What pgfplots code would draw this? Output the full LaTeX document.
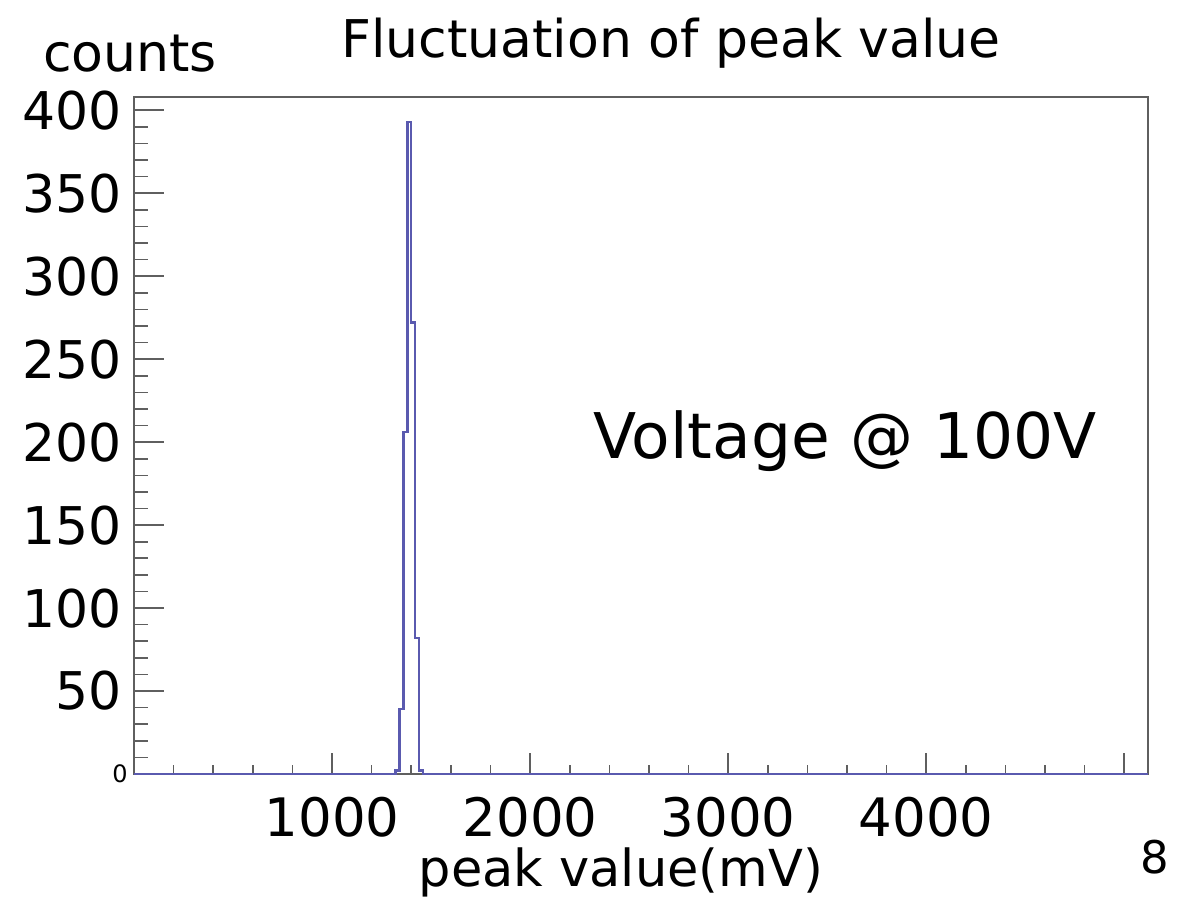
\documentclass[border=0pt]{standalone}
\usepackage{fontspec}
\setmainfont{DejaVu Sans}
\usepackage{pgfplots}
\usepackage{pgfplotstable}
\pgfplotsset{compat=1.18}
\definecolor{histblue}{RGB}{90,90,175}
\definecolor{framegray}{RGB}{95,95,95}

% peak-value histogram, 20 mV bins (left edge, counts)
\pgfplotstableread{
x     y
0     0
1320  2
1340  39
1360  206
1380  393
1400  272
1420  82
1440  2
1460  0
5120  0
}\peakdata

\begin{document}
\begin{tikzpicture}[x=1pt,y=1pt]
\path[use as bounding box] (-67,-66) rectangle (524,387);
\begin{axis}[
  at={(0,0)}, anchor=south west,
  scale only axis, width=507pt, height=338.5pt,
  xmin=0, xmax=5120, ymin=0, ymax=408,
  axis line style={framegray, line width=0.8pt},
  tick pos=left, tick align=inside,
  major tick length=15pt, minor tick length=7pt,
  every tick/.style={framegray, line width=0.8pt},
  xtick style={/pgfplots/major tick length=10.5pt, /pgfplots/minor tick length=4.5pt},
  xtick={0,1000,2000,3000,4000,5000},
  xticklabels={,1000,2000,3000,4000,},
  minor x tick num=4,
  ytick={0,50,100,150,200,250,300,350,400},
  yticklabels={{\fontsize{12}{14}\selectfont 0\hspace*{-3pt}},50,100,150,200,250,300,350,400},
  minor y tick num=4,
  xticklabel style={font=\fontsize{26.5}{30}\selectfont, inner sep=0pt, anchor=north, yshift=-11.5pt},
  yticklabel style={font=\fontsize{26}{30}\selectfont, inner sep=0pt, anchor=east, xshift=-6pt},
  clip=false,
]
\addplot[const plot, histblue, line width=1.2pt] table[x=x, y=y] {\peakdata};
\end{axis}
\node[anchor=base, font=\fontsize{26}{30}\selectfont] at (268.5,358) {Fluctuation of peak value};
\node[anchor=base, font=\fontsize{26}{30}\selectfont] at (-2,351) {counts};
\node[anchor=base, font=\fontsize{31.5}{36}\selectfont] at (355.5,158) {Voltage @ 100V};
\node[anchor=base, font=\fontsize{25.5}{30}\selectfont] at (243.5,-56) {peak value(mV)};
\node[anchor=base, font=\fontsize{22.5}{26}\selectfont] at (510.5,-49.5) {8};
\end{tikzpicture}
\end{document}
